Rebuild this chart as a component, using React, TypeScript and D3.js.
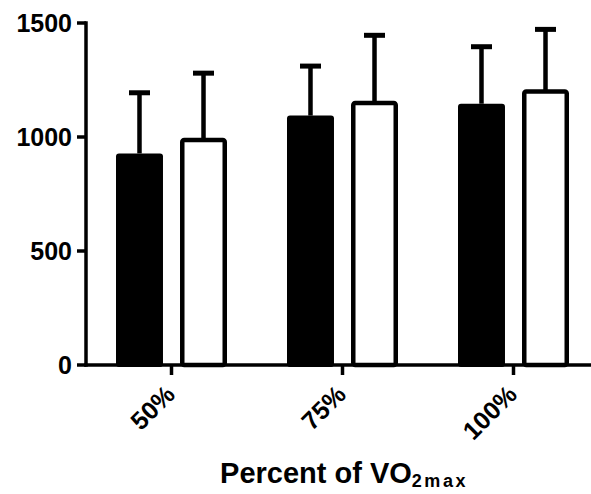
import { useRef, useEffect } from "react";
import * as d3 from "d3";

// ── Data ──────────────────────────────────────────────────────────────────────

const categories = ["50%", "75%", "100%"];
const seriesKeys = ["filled", "open"];
const filledMeans = [928, 1094, 1146];
const filledErrors = [266, 217, 250];
const openMeans = [987, 1149, 1200];
const openErrors = [293, 297, 272];
const yTicks = [0, 500, 1000, 1500];

const WIDTH = 591;
const HEIGHT = 494;
const FONT = "'Liberation Sans', Arial, sans-serif";

export default function App() {
  const svgRef = useRef<SVGSVGElement>(null);

  useEffect(() => {
    if (!svgRef.current) return;
    const svg = d3.select(svgRef.current);
    svg.selectAll("*").remove();

    const left = 86;
    const bottom = 365;

    const x = d3.scaleBand<string>().domain(categories).range([left, 599]).padding(0);
    const bw = x.bandwidth();
    const inner = d3
      .scaleBand<string>()
      .domain(seriesKeys)
      .range([bw / 2 - 55.5, bw / 2 + 55.5])
      .paddingInner(0.266)
      .paddingOuter(0);
    const y = d3.scaleLinear().domain([0, 1500]).range([bottom, 23]);

    const rows = categories.map((c, i) => [
      { cat: c, key: "filled", mean: filledMeans[i], err: filledErrors[i] },
      { cat: c, key: "open", mean: openMeans[i], err: openErrors[i] },
    ]).flat();

    const g = svg.append("g");

    // error bars (up only)
    rows.forEach((d) => {
      const cx = (x(d.cat) ?? 0) + (inner(d.key) ?? 0) + inner.bandwidth() / 2;
      g.append("line")
        .attr("x1", cx)
        .attr("x2", cx)
        .attr("y1", y(d.mean))
        .attr("y2", y(d.mean + d.err))
        .attr("stroke", "#000")
        .attr("stroke-width", 4.5);
      g.append("line")
        .attr("x1", cx - 10.5)
        .attr("x2", cx + 10.5)
        .attr("y1", y(d.mean + d.err))
        .attr("y2", y(d.mean + d.err))
        .attr("stroke", "#000")
        .attr("stroke-width", 5);
    });

    // bars
    rows.forEach((d) => {
      const x0 = (x(d.cat) ?? 0) + (inner(d.key) ?? 0);
      const w = inner.bandwidth();
      if (d.key === "filled") {
        g.append("rect")
          .attr("x", x0)
          .attr("y", y(d.mean))
          .attr("width", w)
          .attr("height", bottom - y(d.mean) + 2)
          .attr("rx", 3)
          .attr("fill", "#000");
      } else {
        const sw = 4.5;
        g.append("rect")
          .attr("x", x0 + sw / 2)
          .attr("y", y(d.mean))
          .attr("width", w - sw)
          .attr("height", bottom - y(d.mean))
          .attr("rx", 2)
          .attr("fill", "#fff")
          .attr("stroke", "#000")
          .attr("stroke-width", sw);
      }
    });

    // y axis
    const yAxis = g.append("g");
    yAxis
      .append("line")
      .attr("x1", left)
      .attr("x2", left)
      .attr("y1", y(1500) - 1.75)
      .attr("y2", bottom + 1.75)
      .attr("stroke", "#000")
      .attr("stroke-width", 3.5);
    yTicks.forEach((t) => {
      yAxis
        .append("line")
        .attr("x1", left - 9)
        .attr("x2", left)
        .attr("y1", y(t))
        .attr("y2", y(t))
        .attr("stroke", "#000")
        .attr("stroke-width", 3.5);
      yAxis
        .append("text")
        .attr("x", 72)
        .attr("y", y(t))
        .attr("dy", "0.36em")
        .attr("text-anchor", "end")
        .attr("font-family", FONT)
        .attr("font-weight", 700)
        .attr("font-size", 25)
        .text(String(t));
    });

    // x axis
    const xAxis = g.append("g");
    xAxis
      .append("line")
      .attr("x1", left - 1.75)
      .attr("x2", WIDTH)
      .attr("y1", bottom)
      .attr("y2", bottom)
      .attr("stroke", "#000")
      .attr("stroke-width", 3.5);
    categories.forEach((c) => {
      const cx = (x(c) ?? 0) + bw / 2;
      xAxis
        .append("line")
        .attr("x1", cx)
        .attr("x2", cx)
        .attr("y1", bottom)
        .attr("y2", bottom + 10)
        .attr("stroke", "#000")
        .attr("stroke-width", 3.5);
      xAxis
        .append("text")
        .attr("transform", `translate(${cx + 5},${396}) rotate(-45)`)
        .attr("text-anchor", "end")
        .attr("font-family", FONT)
        .attr("font-weight", 700)
        .attr("font-size", 25)
        .text(c);
    });

    // axis title
    const title = g
      .append("text")
      .attr("x", 344)
      .attr("y", 483)
      .attr("text-anchor", "middle")
      .attr("font-family", FONT)
      .attr("font-weight", 700)
      .attr("font-size", 29);
    title.append("tspan").text("Percent of VO");
    title
      .append("tspan")
      .attr("dy", 4)
      .attr("font-size", 18)
      .attr("letter-spacing", 2.5)
      .text("2max");
  }, []);

  return (
    <div style={{ position: "fixed", left: 0, top: 0, background: "#fff" }}>
      <svg ref={svgRef} width={WIDTH} height={HEIGHT} style={{ display: "block" }} />
    </div>
  );
}
